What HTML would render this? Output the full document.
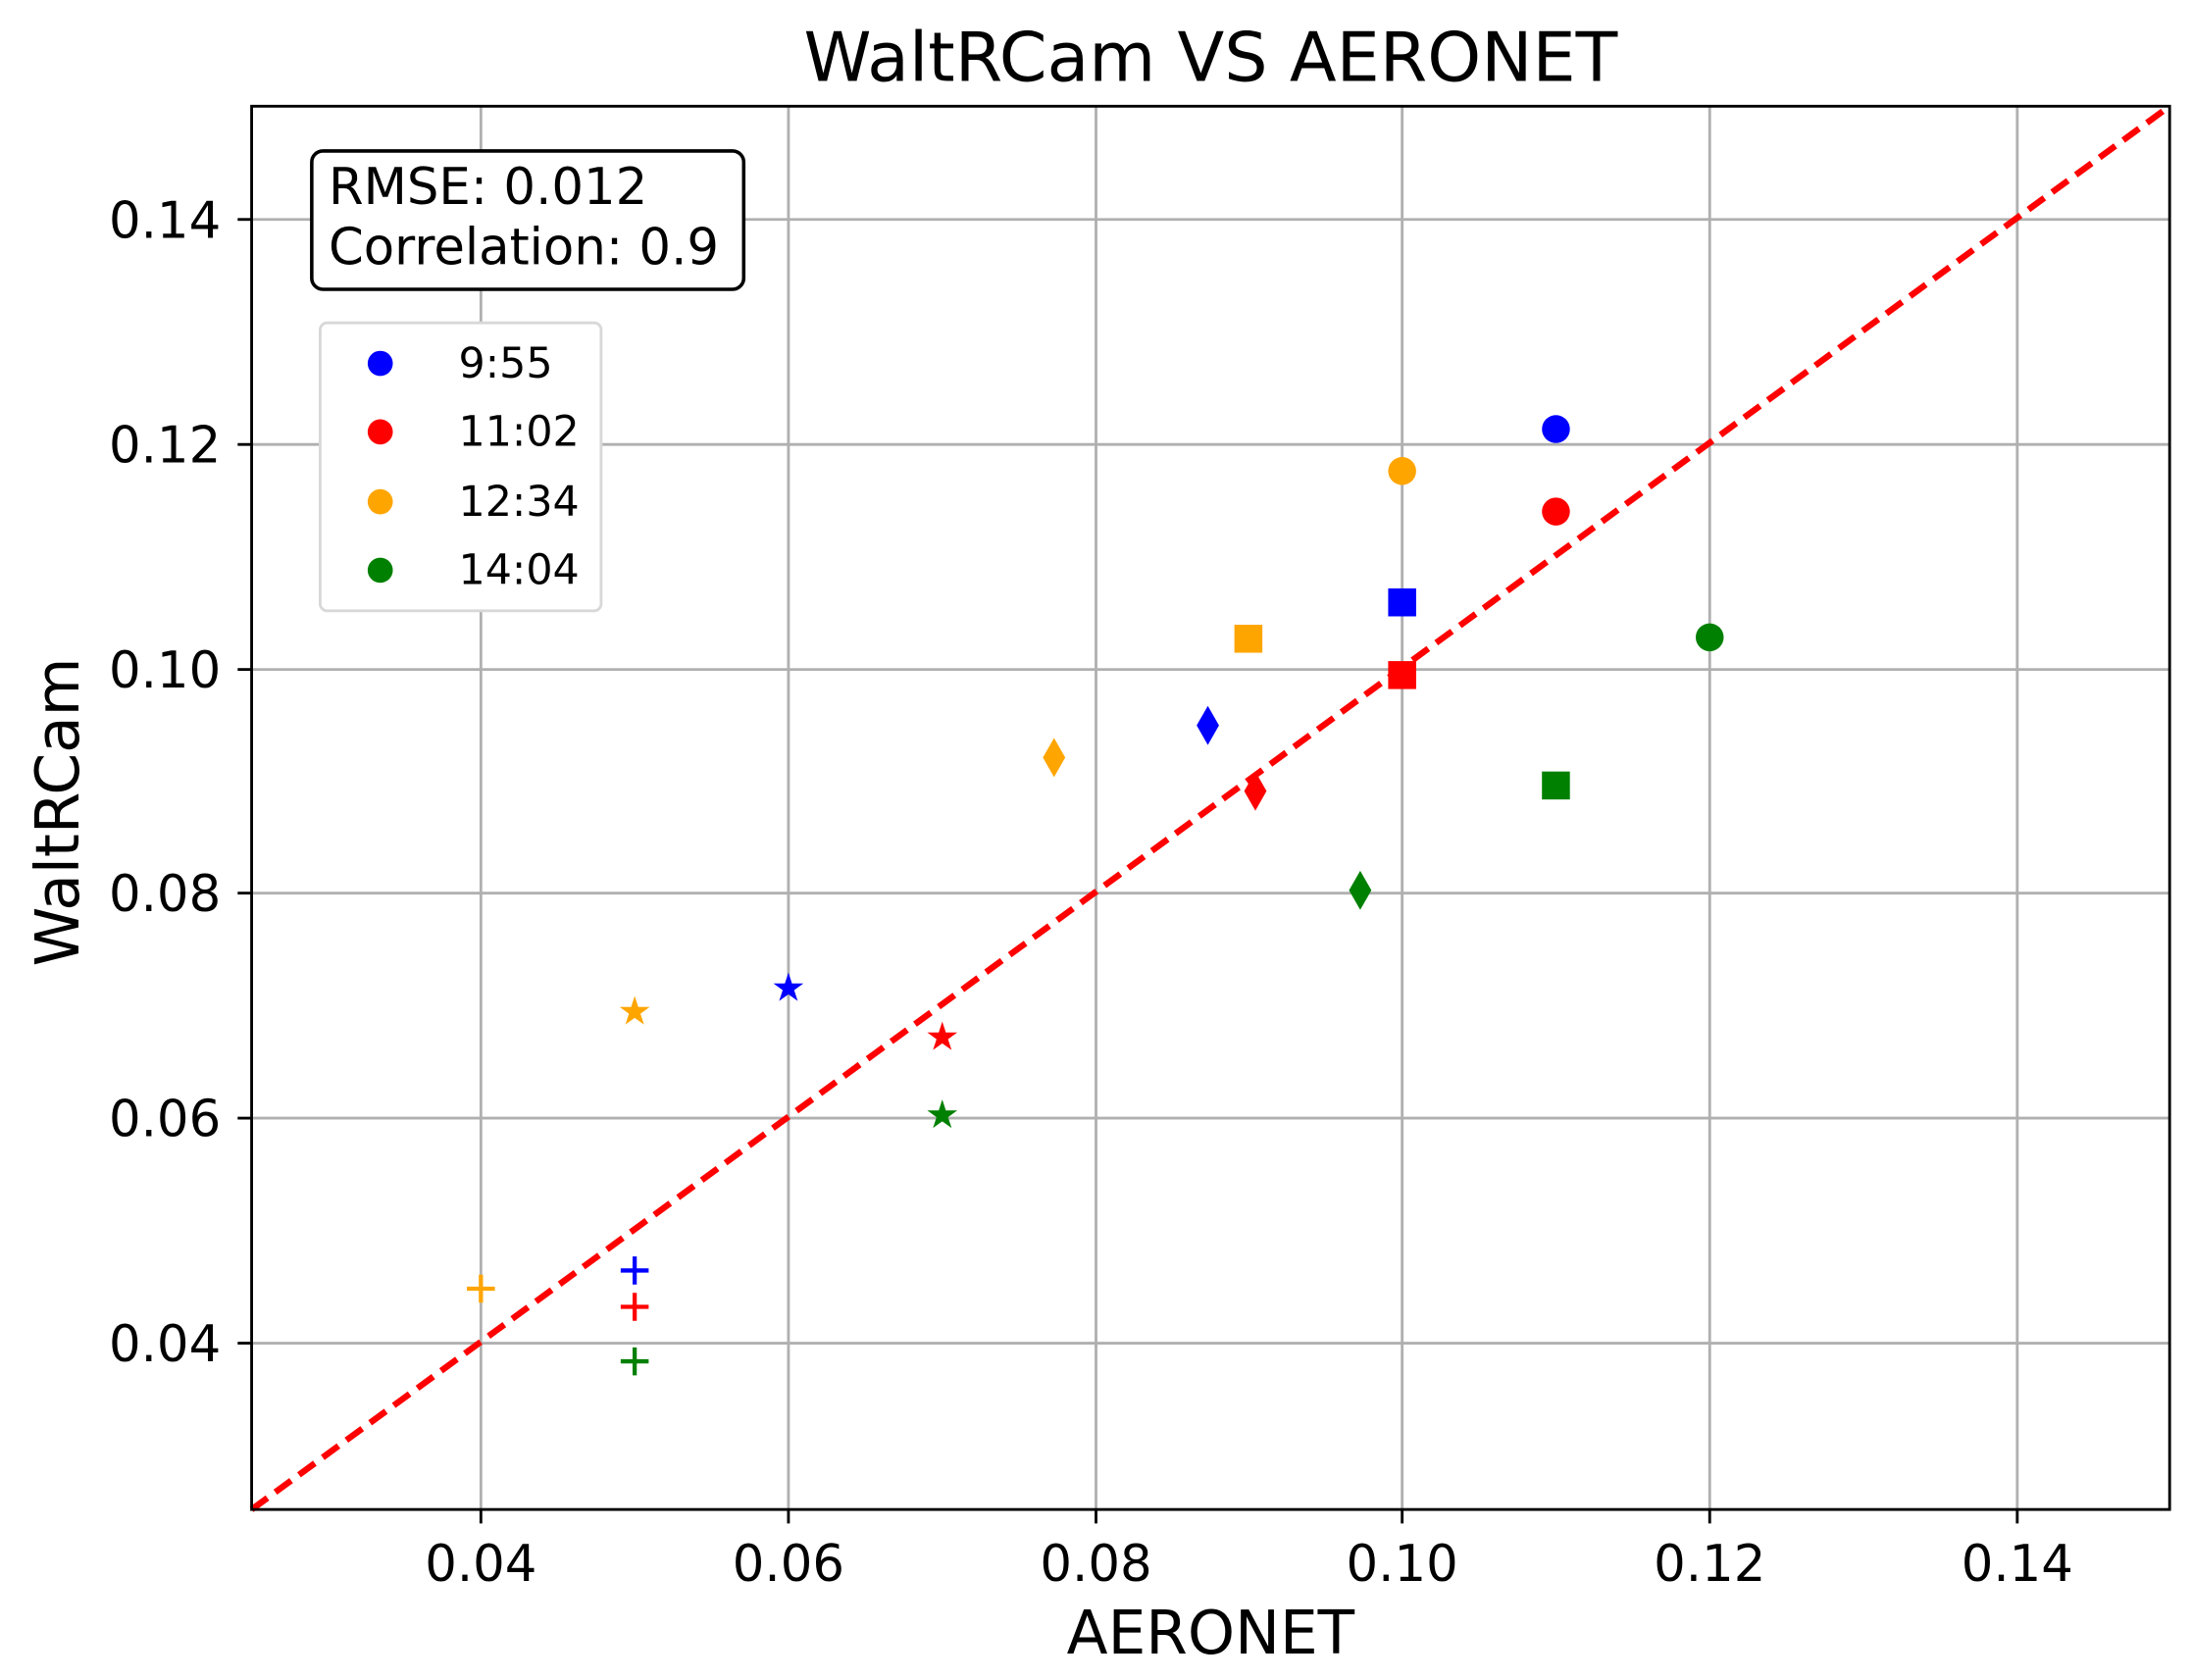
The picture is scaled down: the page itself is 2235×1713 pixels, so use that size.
<!DOCTYPE html>
<html><head><meta charset="utf-8"><style>
html,body{margin:0;padding:0;background:#fff;width:2235px;height:1713px;overflow:hidden}
svg{display:block}
text{font-family:"DejaVu Sans","Liberation Sans",sans-serif}
</style></head><body>
<svg width="2235" height="1713" viewBox="0 0 1568 1202" preserveAspectRatio="none" xmlns="http://www.w3.org/2000/svg">
<rect width="1568" height="1202" fill="#fff"/>
<text x="866" y="58" font-size="49" text-anchor="middle">WaltRCam VS AERONET</text>
<g stroke="#b0b0b0" stroke-width="2">
<line x1="344" y1="76" x2="344" y2="1080"/><line x1="564" y1="76" x2="564" y2="1080"/><line x1="784" y1="76" x2="784" y2="1080"/><line x1="1003" y1="76" x2="1003" y2="1080"/><line x1="1223" y1="76" x2="1223" y2="1080"/><line x1="1443" y1="76" x2="1443" y2="1080"/>
<line x1="180" y1="157" x2="1552" y2="157"/><line x1="180" y1="318" x2="1552" y2="318"/><line x1="180" y1="479" x2="1552" y2="479"/><line x1="180" y1="639" x2="1552" y2="639"/><line x1="180" y1="800" x2="1552" y2="800"/><line x1="180" y1="961" x2="1552" y2="961"/>
</g>
<g stroke="#000" stroke-width="2">
<line x1="344" y1="1080" x2="344" y2="1090"/><line x1="564" y1="1080" x2="564" y2="1090"/><line x1="784" y1="1080" x2="784" y2="1090"/><line x1="1003" y1="1080" x2="1003" y2="1090"/><line x1="1223" y1="1080" x2="1223" y2="1090"/><line x1="1443" y1="1080" x2="1443" y2="1090"/>
<line x1="170" y1="157" x2="180" y2="157"/><line x1="170" y1="318" x2="180" y2="318"/><line x1="170" y1="479" x2="180" y2="479"/><line x1="170" y1="639" x2="180" y2="639"/><line x1="170" y1="800" x2="180" y2="800"/><line x1="170" y1="961" x2="180" y2="961"/>
</g>
<g font-size="36" text-anchor="middle">
<text x="344" y="1131">0.04</text><text x="564" y="1131">0.06</text><text x="784" y="1131">0.08</text><text x="1003" y="1131">0.10</text><text x="1223" y="1131">0.12</text><text x="1443" y="1131">0.14</text>
</g>
<g font-size="36" text-anchor="end">
<text x="158" y="170">0.14</text><text x="158" y="331">0.12</text><text x="158" y="492">0.10</text><text x="158" y="652">0.08</text><text x="158" y="813">0.06</text><text x="158" y="974">0.04</text>
</g>
<text x="866" y="1183" font-size="43" text-anchor="middle">AERONET</text>
<text transform="translate(56,581) rotate(-90)" font-size="43" text-anchor="middle">WaltRCam</text>
<line x1="180" y1="1080" x2="1552" y2="76" stroke="#ff0000" stroke-width="4.5" stroke-dasharray="14,7"/>
<circle cx="1113" cy="307" r="10" fill="#0000ff"/><circle cx="1113" cy="366" r="10" fill="#ff0000"/><circle cx="1003" cy="337" r="10" fill="#ffa500"/><circle cx="1223" cy="456" r="10" fill="#008000"/>
<rect x="993" y="421" width="20" height="20" fill="#0000ff"/><rect x="993" y="473" width="20" height="20" fill="#ff0000"/><rect x="883" y="447" width="20" height="20" fill="#ffa500"/><rect x="1103" y="552" width="20" height="20" fill="#008000"/>
<polygon points="864,505 872,519 864,533 856,519" fill="#0000ff"/><polygon points="898,552 906,566 898,580 890,566" fill="#ff0000"/><polygon points="754,528 762,542 754,556 746,542" fill="#ffa500"/><polygon points="973,623 981,637 973,651 965,637" fill="#008000"/>
<g font-size="28" text-anchor="middle">
<text x="564" y="716" fill="#0000ff">★</text><text x="674" y="751" fill="#ff0000">★</text><text x="454" y="733" fill="#ffa500">★</text><text x="674" y="807" fill="#008000">★</text>
</g>
<g stroke-width="3">
<path d="M444 909h20M454 899v20" stroke="#0000ff"/><path d="M444 935h20M454 925v20" stroke="#ff0000"/><path d="M334 922h20M344 912v20" stroke="#ffa500"/><path d="M444 974h20M454 964v20" stroke="#008000"/>
</g>
<rect x="180" y="76" width="1372" height="1004" fill="none" stroke="#000" stroke-width="2"/>
<rect x="223" y="108" width="309" height="99" rx="8" fill="#fff" stroke="#000" stroke-width="2.5"/>
<text x="235" y="146" font-size="36">RMSE: 0.012</text>
<text x="235" y="189" font-size="36">Correlation: 0.9</text>
<rect x="229" y="231" width="201" height="206" rx="5" fill="#fff" stroke="#d8d8d8" stroke-width="2"/>
<circle cx="272" cy="260" r="9" fill="#0000ff"/><circle cx="272" cy="309" r="9" fill="#ff0000"/><circle cx="272" cy="359" r="9" fill="#ffa500"/><circle cx="272" cy="408" r="9" fill="#008000"/>
<g font-size="30"><text x="328" y="270">9:55</text><text x="328" y="319">11:02</text><text x="328" y="369">12:34</text><text x="328" y="418">14:04</text></g>
</svg>
</body></html>
